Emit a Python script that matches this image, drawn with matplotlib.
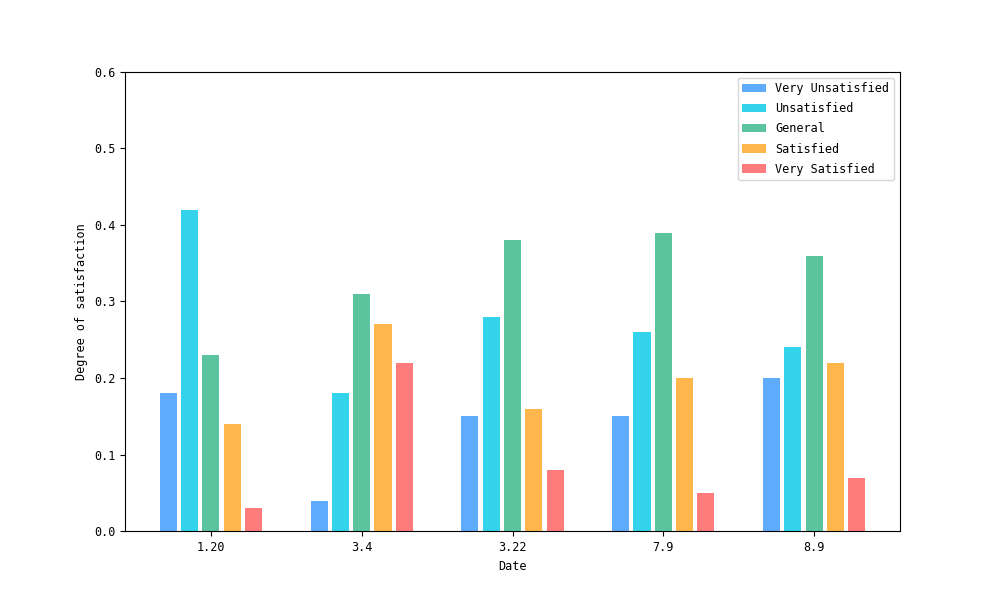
import numpy as np
import matplotlib
matplotlib.use("Agg")
import matplotlib.pyplot as plt

plt.rcParams['font.family'] = ['DejaVu Sans Mono']
plt.rcParams['font.size'] = 8.5

dates = ["1.20", "3.4", "3.22", "7.9", "8.9"]
labels = ["Very Unsatisfied", "Unsatisfied", "General", "Satisfied", "Very Satisfied"]
very_unsat = [0.18, 0.04, 0.15, 0.15, 0.20]
unsat = [0.42, 0.18, 0.28, 0.26, 0.24]
general = [0.23, 0.31, 0.38, 0.39, 0.36]
sat = [0.14, 0.27, 0.16, 0.20, 0.22]
very_sat = [0.03, 0.22, 0.08, 0.05, 0.07]
colors = ["#60ACFC", "#32D3EB", "#5BC49F", "#FEB64D", "#FF7C7C"]

series = [very_unsat, unsat, general, sat, very_sat]
x = np.arange(len(dates))
step = 0.141
width = 0.113

fig, ax = plt.subplots(figsize=(10, 5.97), dpi=100)
for i, vals in enumerate(series):
    ax.bar(x + (i - 2) * step, vals, width=width, color=colors[i], label=labels[i])

ax.set_xticks(x)
ax.set_xticklabels(dates)
ax.set_xlim(-0.57, 4.57)
ax.set_ylim(0, 0.6)
ax.set_yticks(np.arange(0, 0.61, 0.1))
ax.set_xlabel("Date")
ax.set_ylabel("Degree of satisfaction")
ax.legend(loc="upper right", labelspacing=0.6)

plt.savefig("out.png", dpi=100)
